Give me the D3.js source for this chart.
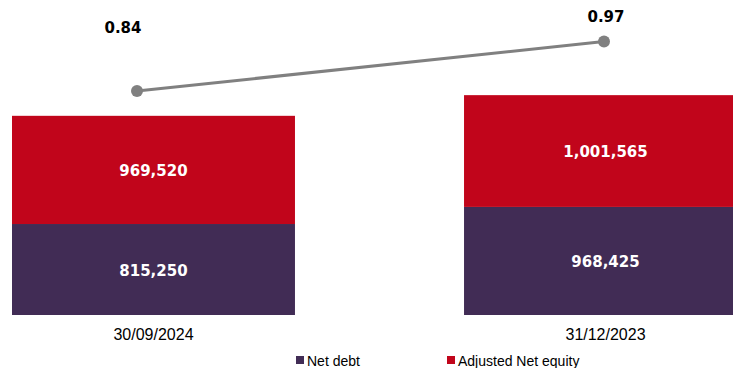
<!DOCTYPE html>
<html>
<head>
<meta charset="utf-8">
<script src="https://cdn.jsdelivr.net/npm/d3@7"></script>
<style>
  html, body { margin: 0; padding: 0; background: #fff; }
  svg { display: block; }
</style>
</head>
<body>
<div id="chart"></div>
<script>
const categories = ["30/09/2024", "31/12/2023"]
const netDebt = [815250, 968425]
const adjNetEquity = [969520, 1001565]
const ratio = [0.84, 0.97]
const seriesNames = ["Net debt", "Adjusted Net equity"]

const width = 733,
      height = 368

const colors = {debt: "#412C55", equity: "#C1051B", line: "#808080"}

// per-point nudge of the ratio labels, as in the original layout
const ratioLabelOffset = [{dx: -14, dy: -58}, {dx: 2, dy: -20}]

const svg = d3.select("#chart").append("svg")
    .attr("width", width)
    .attr("height", height)
    .attr("viewBox", [0, 0, width, height])

const x = d3.scaleBand()
    .domain(categories)
    .range([12, 747])
    .paddingInner(0.374)
    .paddingOuter(0)

const y = d3.scaleLinear()
    .domain([0, 2500000])
    .range([315, 36])

const xLine = d3.scalePoint()
    .domain(categories)
    .range([137, 604])

const yLine = d3.scaleLinear()
    .domain([0.6, 1.0])
    .range([182.4, 30.1])

const rows = categories.map((c, i) => ({cat: c, debt: netDebt[i], equity: adjNetEquity[i], ratio: ratio[i]}))

const fmt = d3.format(",")

// stacked bars
const bars = svg.append("g")
rows.forEach(d => {
  bars.append("rect")
      .attr("x", x(d.cat))
      .attr("width", x.bandwidth())
      .attr("y", y(d.debt))
      .attr("height", y(0) - y(d.debt))
      .attr("fill", colors.debt)
  bars.append("rect")
      .attr("x", x(d.cat))
      .attr("width", x.bandwidth())
      .attr("y", y(d.debt + d.equity))
      .attr("height", y(d.debt) - y(d.debt + d.equity))
      .attr("fill", colors.equity)

  bars.append("text")
      .attr("x", x(d.cat) + x.bandwidth() / 2)
      .attr("y", (y(0) + y(d.debt)) / 2 + 6)
      .attr("text-anchor", "middle")
      .attr("font-family", "DejaVu Sans")
      .attr("font-weight", "bold")
      .attr("font-size", 15)
      .attr("fill", "#fff")
      .text(fmt(d.debt))
  bars.append("text")
      .attr("x", x(d.cat) + x.bandwidth() / 2)
      .attr("y", (y(d.debt) + y(d.debt + d.equity)) / 2 + 6)
      .attr("text-anchor", "middle")
      .attr("font-family", "DejaVu Sans")
      .attr("font-weight", "bold")
      .attr("font-size", 15)
      .attr("fill", "#fff")
      .text(fmt(d.equity))
})

// category axis (labels only)
svg.append("g")
    .attr("transform", `translate(0,${y(0)})`)
    .call(d3.axisBottom(x).tickSize(0).tickPadding(14))
    .call(g => g.select(".domain").remove())
    .call(g => g.selectAll("text")
        .attr("font-family", "Liberation Sans")
        .attr("font-size", 16)
        .attr("fill", "#000"))

// ratio line
const line = d3.line()
    .x(d => xLine(d.cat))
    .y(d => yLine(d.ratio))

svg.append("path")
    .datum(rows)
    .attr("fill", "none")
    .attr("stroke", colors.line)
    .attr("stroke-width", 3)
    .attr("d", line)

svg.append("g")
  .selectAll("circle")
  .data(rows)
  .join("circle")
    .attr("cx", d => xLine(d.cat))
    .attr("cy", d => yLine(d.ratio))
    .attr("r", 6)
    .attr("fill", colors.line)

svg.append("g")
  .selectAll("text")
  .data(rows)
  .join("text")
    .attr("x", (d, i) => xLine(d.cat) + ratioLabelOffset[i].dx)
    .attr("y", (d, i) => yLine(d.ratio) + ratioLabelOffset[i].dy)
    .attr("text-anchor", "middle")
    .attr("font-family", "DejaVu Sans")
    .attr("font-weight", "bold")
    .attr("font-size", 15)
    .attr("fill", "#000")
    .text(d => d3.format(".2f")(d.ratio))

// legend
const legend = svg.append("g")
  .selectAll("g")
  .data(seriesNames)
  .join("g")
    .attr("transform", (d, i) => `translate(${[296, 447][i]},356)`)

legend.append("rect")
    .attr("width", 8)
    .attr("height", 8)
    .attr("fill", (d, i) => i === 0 ? colors.debt : colors.equity)

legend.append("text")
    .attr("x", 11)
    .attr("y", 10)
    .attr("font-family", "Liberation Sans")
    .attr("font-size", 14)
    .attr("fill", "#000")
    .text(d => d)
</script>
</body>
</html>
